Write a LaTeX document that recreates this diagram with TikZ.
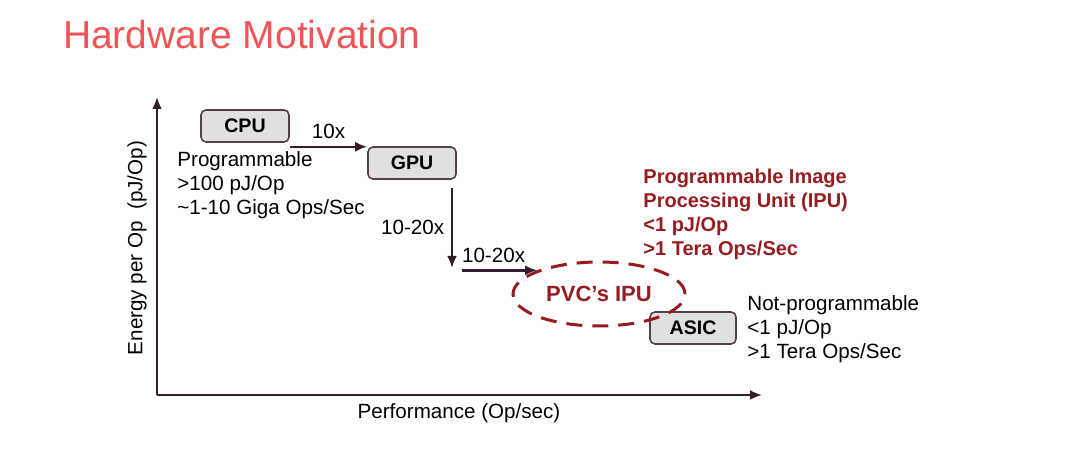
\documentclass[tikz,border=0pt]{standalone}
\usepackage{fontspec}
\setmainfont{Liberation Sans}
\usetikzlibrary{positioning, arrows.meta, shapes.geometric}

\definecolor{titlered}{RGB}{240,84,86}
\definecolor{ipured}{RGB}{150,28,34}
\definecolor{inkdark}{RGB}{52,30,44}
\definecolor{boxgray}{RGB}{224,224,224}

\begin{document}
\begin{tikzpicture}[x=0.5pt, y=-0.5pt,
    % Styles
    chip/.style={draw=inkdark!85!white, fill=boxgray, line width=0.8pt, rounded corners=2.5pt, minimum width=44pt, minimum height=16pt, inner sep=0pt, font=\fontsize{9.8}{11}\selectfont\bfseries},
    specs/.style={anchor=north west, align=left, inner sep=0pt, font=\fontsize{10.3}{12}\selectfont},
    gain-arrow/.style={-{Latex[length=6pt, width=5pt]}, line width=1.2pt, inkdark},
    axis-arrow/.style={-{Latex[length=6pt, width=5pt]}, line width=1.3pt, inkdark},
    axislabel/.style={font=\fontsize{10.3}{12}\selectfont},
]

\useasboundingbox (0,0) rectangle (1080,453);

% Title
\node[font=\fontsize{19.5}{22}\selectfont, titlered, anchor=west] (title) at (56,35) {Hardware Motivation};

% Axes
\coordinate (origin) at (157,395);
\coordinate (ytop) at (157,97);
\coordinate (xend) at (762,395);
\draw[axis-arrow] (origin) -- (ytop);
\draw[axis-arrow] (origin) -- (xend);
\node[axislabel, rotate=90] (ylabel) at (137,248) {Energy per Op~ (pJ/Op)};
\node[axislabel] (xlabel) at (459,413) {Performance (Op/sec)};

% Chips
\node[chip] (cpu) at (245,126) {CPU};
\node[chip] (gpu) at (412,163) {GPU};
\node[chip, minimum width=43pt] (asic) at (693,328) {ASIC};

\node[specs] (cpuspecs) at (177,151) {Programmable\\>100 pJ/Op\\\textasciitilde1-10 Giga Ops/Sec};
\node[specs] (asicspecs) at (747,295) {Not-programmable\\<1 pJ/Op\\>1 Tera Ops/Sec};

% PVC's IPU
\node[ellipse, draw=ipured, dash pattern=on 8pt off 5pt, line width=1.5pt, minimum width=86pt, minimum height=32pt, inner sep=0pt, text=ipured, font=\fontsize{11}{13}\selectfont\bfseries] (ipu) at (599,294) {PVC’s IPU};
\node[specs, text=ipured, font=\fontsize{10}{12}\selectfont\bfseries] (ipuspecs) at (643,169) {Programmable Image\\Processing Unit (IPU)\\<1 pJ/Op\\>1 Tera Ops/Sec};

% Gains
\coordinate (dropend) at (452,268);
\coordinate (turn) at (ipu.north west -| dropend);
\draw[gain-arrow] ([yshift=-2pt]cpu.south east) -- ([yshift=-2pt]cpu.south east -| gpu.west)
    node[midway, above, font=\fontsize{10.3}{12}\selectfont, text=black] {10x};
\draw[gain-arrow] (gpu.south east -| dropend) ++(0,8) -- (dropend)
    node[midway, left, font=\fontsize{10.3}{12}\selectfont, text=black] {10-20x};
\draw[gain-arrow] ([xshift=5pt]turn) -- (ipu.north west)
    node[midway, above, xshift=-3pt, font=\fontsize{10.3}{12}\selectfont, text=black] {10-20x};

\end{tikzpicture}
\end{document}
